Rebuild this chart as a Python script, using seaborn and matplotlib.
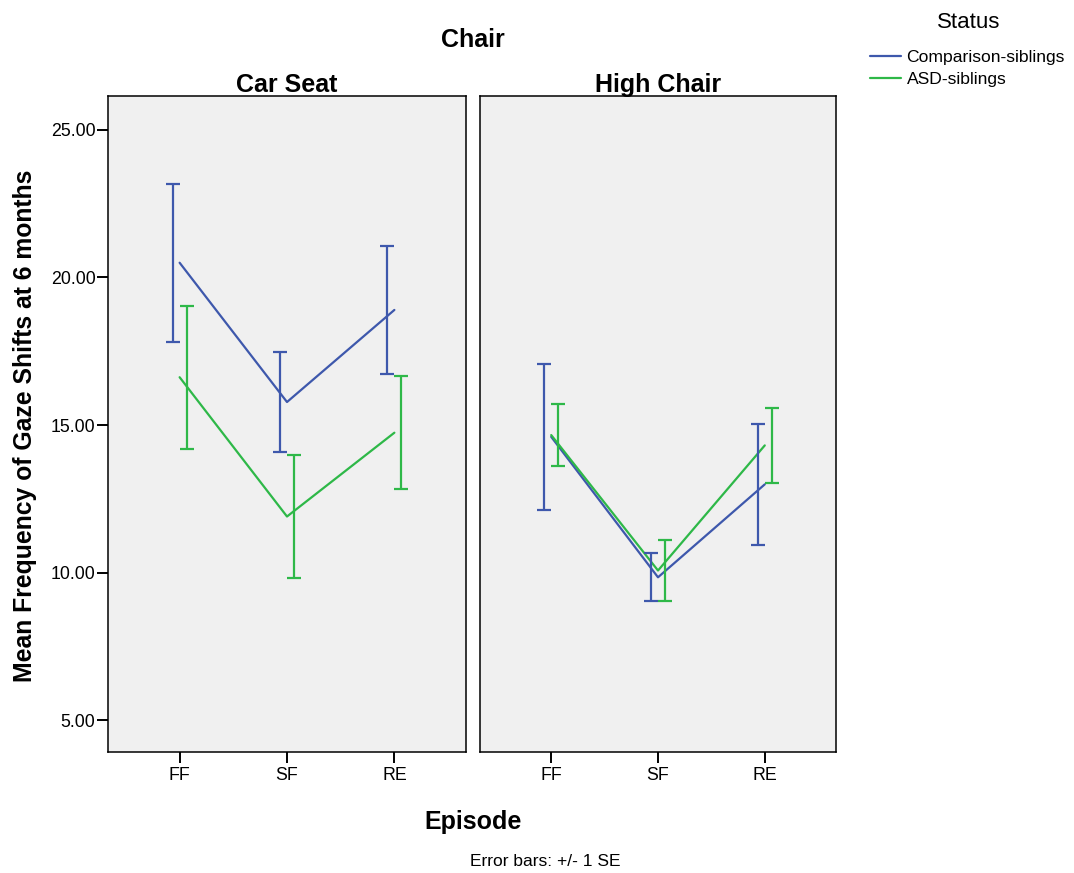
import matplotlib
matplotlib.use('Agg')
import matplotlib.pyplot as plt
import seaborn as sns
import pandas as pd

# Data (means and +/- 1 SE)
episodes = ['FF', 'SF', 'RE']
chairs = ['Car Seat', 'High Chair']
statuses = ['Comparison-siblings', 'ASD-siblings']

car_comp_mean = [20.50, 15.78, 18.90]
car_comp_se = [2.67, 1.70, 2.18]
car_asd_mean = [16.62, 11.90, 14.74]
car_asd_se = [2.43, 2.10, 1.92]

high_comp_mean = [14.60, 9.84, 12.99]
high_comp_se = [2.47, 0.81, 2.06]
high_asd_mean = [14.66, 10.07, 14.31]
high_asd_se = [1.06, 1.04, 1.26]

y_ticks = [5, 10, 15, 20, 25]

# Build a long table from the arrays
rows = []
values = {
    ('Car Seat', 'Comparison-siblings'): (car_comp_mean, car_comp_se),
    ('Car Seat', 'ASD-siblings'): (car_asd_mean, car_asd_se),
    ('High Chair', 'Comparison-siblings'): (high_comp_mean, high_comp_se),
    ('High Chair', 'ASD-siblings'): (high_asd_mean, high_asd_se),
}
for (chair, status), (means, ses) in values.items():
    for i, ep in enumerate(episodes):
        rows.append({'Chair': chair, 'Status': status, 'Episode': ep,
                     'pos': i, 'mean': means[i], 'se': ses[i]})
df = pd.DataFrame(rows)

sns.set_style('white')
plt.rcParams['font.family'] = ['Liberation Sans', 'DejaVu Sans']
plt.rcParams['text.color'] = 'black'
plt.rcParams['axes.labelcolor'] = 'black'
plt.rcParams['xtick.color'] = 'black'
plt.rcParams['ytick.color'] = 'black'

palette = {'Comparison-siblings': '#3E58AC', 'ASD-siblings': '#2EB848'}
offsets = {'Comparison-siblings': -0.065, 'ASD-siblings': 0.065}

fig = plt.figure(figsize=(10.74, 8.73), dpi=100)
ax1 = fig.add_axes([108 / 1074, 1 - 752 / 873, 358 / 1074, 656 / 873])
ax2 = fig.add_axes([480 / 1074, 1 - 752 / 873, 356 / 1074, 656 / 873], sharey=ax1)

for ax, chair in zip([ax1, ax2], chairs):
    sub = df[df['Chair'] == chair]
    sns.lineplot(data=sub, x='pos', y='mean', hue='Status', hue_order=statuses,
                 palette=palette, linewidth=1.6, ax=ax, legend=False)
    for status in statuses:
        s = sub[sub['Status'] == status]
        ax.errorbar(s['pos'] + offsets[status], s['mean'], yerr=s['se'],
                    fmt='none', ecolor=palette[status], elinewidth=1.6,
                    capsize=4.7, capthick=1.6)
    ax.set_facecolor('#F0F0F0')
    ax.set_xlim(-0.667, 2.667)
    ax.set_xticks(range(len(episodes)))
    ax.set_xticklabels(episodes, fontsize=12.8)
    ax.set_xlabel('')
    ax.set_ylabel('')
    ax.set_title(chair, fontsize=18, fontweight='bold', pad=3)
    for sp in ax.spines.values():
        sp.set_color('black')
        sp.set_linewidth(1.1)
    ax.tick_params(axis='x', direction='out', length=8, width=1.4, bottom=True, pad=3)

ax1.set_ylim(3.92, 26.15)
ax1.set_yticks(y_ticks)
ax1.set_yticklabels([f'{v:.2f}' for v in y_ticks], fontsize=12.8)
ax1.tick_params(axis='y', direction='out', length=8, width=1.4, left=True, pad=1)
ax2.tick_params(axis='y', left=False, labelleft=False)

fig.text(473 / 1074, 1 - 40 / 873, 'Chair', ha='center', va='center',
         fontsize=18, fontweight='bold')
fig.text(25 / 1074, 1 - 426 / 873, 'Mean Frequency of Gaze Shifts at 6 months',
         rotation=90, ha='center', va='center', fontsize=17.8, fontweight='bold')
fig.text(473 / 1074, 1 - 822 / 873, 'Episode', ha='center', va='center',
         fontsize=18, fontweight='bold')
fig.text(545 / 1074, 1 - 862 / 873, 'Error bars: +/- 1 SE', ha='center',
         va='center', fontsize=12.5)

# Legend title placed separately to match the wide gap above the entries
fig.text(969 / 1074, 1 - 22 / 873, 'Status', ha='center', va='center', fontsize=16)
handles = [plt.Line2D([], [], color=palette[s], linewidth=1.6) for s in statuses]
leg = fig.legend(handles, statuses, loc='center left',
                 bbox_to_anchor=(854 / 1074, 1 - 68.5 / 873), frameon=False,
                 fontsize=12.6, handlelength=1.8, handletextpad=0.3,
                 labelspacing=0.38)

fig.savefig('out.png', dpi=100)
